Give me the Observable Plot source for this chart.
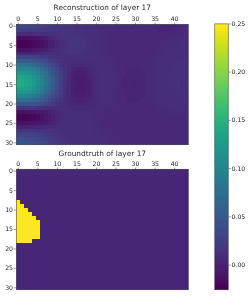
<!DOCTYPE html>
<html>
<head>
<meta charset="utf-8">
<script src="https://cdn.jsdelivr.net/npm/d3@7"></script>
<script src="https://cdn.jsdelivr.net/npm/@observablehq/plot@0.6"></script>
<style>
html,body{margin:0;padding:0;background:#fff;}
#root{position:relative;width:250px;height:296px;overflow:hidden;}
#root svg{position:absolute;left:0;top:0;background:transparent;filter:blur(0.4px);}
</style>
</head>
<body>
<div id="root"></div>
<script>
const titleTop = "Reconstruction of layer 17";
const titleBottom = "Groundtruth of layer 17";
const xTicks = [0,5,10,15,20,25,30,35,40];
const yTicks = [0,5,10,15,20,25,30];
const barTicks = [0,0.05,0.10,0.15,0.20,0.25];
const colorMin = -0.0256, colorMax = 0.25;
const nCols = 44, nRows = 31;

// Reconstruction values in thousandths, one row per image row
const reconstruction = [
[33,33,32,31,29,27,25,23,21,19,17,16,15,14,13,13,12,11,10,10,9,9,8,8,8,7,7,7,7,6,6,6,6,6,6,5,5,4,4,4,4,5,6,7],
[25,25,24,23,22,21,20,19,18,17,16,15,15,14,14,13,12,11,10,9,9,8,8,7,7,6,6,6,6,6,6,6,6,6,5,5,4,4,4,4,5,6,7,7],
[8,8,8,7,8,9,10,11,12,13,14,14,15,15,15,14,13,12,11,10,9,8,7,7,6,6,6,6,6,6,6,6,6,6,5,5,5,5,5,6,6,7,7,8],
[-16,-16,-15,-14,-12,-10,-7,-4,0,5,9,12,14,16,16,16,15,13,12,10,9,8,7,6,6,6,6,6,6,6,6,6,6,6,6,6,6,6,6,7,7,8,8,8],
[-23,-23,-22,-21,-19,-17,-14,-10,-5,0,5,9,13,15,16,16,15,14,12,11,9,8,7,6,6,6,6,6,6,6,6,6,6,6,6,6,6,6,7,7,8,8,9,9],
[-23,-23,-23,-21,-19,-17,-14,-10,-5,0,5,9,13,15,16,16,15,14,12,11,9,8,7,6,6,6,6,6,6,6,6,6,6,6,6,6,6,7,7,8,8,9,9,9],
[-13,-13,-12,-11,-9,-7,-5,-2,2,6,9,12,14,15,16,16,15,13,12,10,9,8,7,6,6,6,6,6,6,6,6,6,6,6,6,6,7,7,8,8,9,9,10,10],
[3,3,3,3,4,5,6,7,9,10,11,12,13,14,14,14,13,12,11,10,9,8,7,7,6,6,6,6,6,6,6,6,6,6,6,7,7,8,8,9,10,10,11,11],
[31,31,30,29,27,25,22,20,17,15,13,12,11,11,11,11,11,10,10,9,9,8,8,7,7,7,6,6,6,6,6,6,6,6,6,7,8,8,9,10,10,11,11,11],
[55,55,54,52,49,44,39,34,28,23,18,14,11,9,8,8,8,8,8,8,8,8,8,8,7,7,6,6,6,5,5,5,5,6,6,7,8,9,10,11,11,12,12,12],
[80,80,78,75,70,63,56,48,40,32,24,17,12,8,6,5,5,5,6,7,8,8,8,8,8,7,6,6,5,5,5,5,5,5,6,7,8,9,10,11,12,12,12,12],
[103,103,101,97,90,81,72,61,50,40,30,21,13,8,4,2,1,2,4,6,8,8,9,9,8,7,6,5,4,4,4,4,5,5,6,7,8,9,10,11,12,13,13,13],
[121,121,118,113,105,95,83,71,58,46,34,23,14,7,2,-1,-2,-1,2,5,7,9,9,9,8,7,6,5,4,3,3,4,4,5,6,7,8,10,11,12,13,13,13,13],
[134,134,131,125,116,105,92,78,64,50,37,25,14,6,0,-3,-4,-3,0,4,7,9,10,10,9,7,6,4,3,3,3,3,4,5,6,7,9,10,11,12,13,13,13,13],
[142,142,138,132,122,110,96,82,67,52,38,25,14,5,-1,-5,-6,-4,-1,3,7,9,10,10,9,8,6,4,3,2,2,3,4,5,6,7,9,10,11,12,13,14,13,13],
[143,143,139,133,123,111,97,82,67,52,38,25,14,5,-1,-5,-6,-5,-1,3,7,9,10,10,9,8,6,4,3,2,2,3,4,5,6,7,9,10,11,12,13,14,13,13],
[135,135,131,125,116,105,92,78,63,50,36,24,13,5,-1,-5,-6,-4,-1,3,7,9,10,10,9,7,6,4,3,2,2,3,4,5,6,7,9,10,11,12,13,13,13,13],
[121,121,118,112,104,94,82,70,57,44,32,21,12,5,0,-3,-4,-3,0,4,7,9,9,9,8,7,6,4,3,3,3,3,4,5,6,7,8,10,11,12,13,13,13,12],
[100,100,97,93,86,78,68,58,47,37,27,18,11,5,1,-1,-2,-1,1,4,7,8,9,9,8,7,6,5,4,3,3,4,4,5,6,7,8,9,10,11,12,12,12,12],
[75,75,73,70,65,59,52,44,36,28,21,15,9,5,3,1,1,1,3,5,6,8,8,8,8,7,6,5,4,4,4,4,5,5,6,7,8,9,10,10,11,11,11,11],
[48,48,47,45,42,38,34,29,24,20,15,12,9,6,5,4,4,4,5,6,6,7,8,8,7,7,6,5,5,5,5,5,5,6,6,7,8,8,9,9,10,10,10,10],
[15,15,15,14,14,13,12,11,10,9,9,8,8,7,7,7,7,7,7,7,7,7,7,7,7,6,6,6,6,6,6,6,6,6,6,7,7,8,8,8,9,9,9,9],
[-13,-13,-12,-11,-10,-8,-6,-3,0,3,6,8,8,9,9,9,9,9,8,8,7,7,7,6,6,6,6,6,6,6,6,6,6,6,6,6,7,7,7,7,8,8,8,8],
[-22,-22,-22,-21,-19,-16,-13,-9,-4,0,4,7,9,10,10,10,10,9,9,8,7,7,6,6,6,5,5,5,6,6,6,6,6,6,6,6,6,6,6,7,7,7,7,7],
[-22,-22,-22,-21,-19,-16,-13,-9,-4,0,4,7,9,10,11,11,10,10,9,8,7,7,6,6,5,5,5,5,5,6,6,6,6,6,6,6,6,6,6,6,6,6,6,6],
[-14,-14,-13,-12,-11,-9,-7,-4,0,3,6,8,10,10,11,11,10,10,9,8,8,7,6,6,5,5,5,5,5,5,6,6,6,6,6,6,6,6,6,6,6,6,6,6],
[0,0,0,1,2,3,4,6,7,8,9,10,10,11,11,10,10,10,9,8,8,7,6,6,6,5,5,5,5,5,5,6,6,6,6,6,6,6,6,6,6,6,6,6],
[18,18,18,18,18,17,16,15,14,13,12,12,11,11,11,10,10,10,9,9,8,7,7,6,6,6,6,6,6,6,6,6,6,6,6,6,6,6,6,6,6,6,6,6],
[29,29,29,28,27,25,23,21,19,17,15,13,12,11,11,11,10,10,9,9,8,8,7,7,6,6,6,6,6,6,6,6,6,6,6,6,6,6,6,6,6,6,6,6],
[39,39,38,37,35,32,29,26,23,20,17,15,13,12,11,11,10,10,9,9,8,8,8,7,7,7,6,6,6,6,6,6,6,6,6,6,6,6,6,6,6,6,6,6],
[45,45,44,42,40,36,32,29,25,21,18,16,14,12,11,11,10,10,9,9,9,8,8,8,7,7,7,6,6,6,6,6,6,6,6,6,6,6,6,6,6,6,6,6]
];

// Groundtruth: number of yellow cells from the left edge in each row
const truthRows   = [8,9,10,11,12,13,14,15,16,17,18];
const truthWidths = [1,2,3,4,5,6,6,6,6,6,4];
const truthValue = 0.25;
const truthBackground = 0.004;

const reconstructionFlat = reconstruction.flat().map(v => v / 1000);
const truthFlat = [];
for (let r = 0; r < nRows; r++) {
  const i = truthRows.indexOf(r);
  const w = i < 0 ? 0 : truthWidths[i];
  for (let c = 0; c < nCols; c++) truthFlat.push(c < w ? truthValue : truthBackground);
}
const barSteps = d3.range(256).map(i => colorMax - (colorMax - colorMin) * (i + 0.5) / 256);

const font = "'DejaVu Sans', sans-serif";
const ink = "#2a2a2a";
const color = {type: "linear", scheme: "viridis", domain: [colorMin, colorMax], clamp: true};

function panel(values, title, marginTop, marginBottom, titleDy) {
  return Plot.plot({
    width: 250, height: 296,
    marginLeft: 15.8, marginRight: 62.2, marginTop, marginBottom,
    style: {fontFamily: font, fontSize: "6.2px", background: "transparent", color: ink},
    x: {domain: [-0.5, 43.5], axis: null},
    y: {domain: [30.5, -0.5], axis: null},
    color,
    marks: [
      Plot.raster(values, {width: nCols, height: nRows, x1: -0.5, x2: 43.5, y1: -0.5, y2: 30.5, fill: d => d, imageRendering: "pixelated"}),
      Plot.frame({stroke: ink, strokeWidth: 0.5}),
      Plot.axisX({anchor: "top", ticks: xTicks, tickSize: 2.1, tickPadding: 1, strokeWidth: 0.5, label: null, tickFormat: d => String(d), fontSize: 6.2}),
      Plot.axisY({anchor: "left", ticks: yTicks, tickSize: 2.1, tickPadding: 1.2, strokeWidth: 0.5, label: null, tickFormat: d => String(d), fontSize: 6.2}),
      Plot.text([title], {frameAnchor: "top", dy: titleDy, lineAnchor: "middle", fontSize: 7.4, fill: ink, text: d => d})
    ]
  });
}

const bar = Plot.plot({
  width: 250, height: 296,
  marginLeft: 214.3, marginRight: 22.3, marginTop: 23.4, marginBottom: 6.7,
  style: {fontFamily: font, fontSize: "6.2px", background: "transparent", color: ink},
  x: {domain: [0, 1], axis: null},
  y: {domain: [colorMin, colorMax], axis: null},
  color,
  marks: [
    Plot.raster(barSteps, {width: 1, height: 256, x1: 0, x2: 1, y1: colorMax, y2: colorMin, fill: d => d}),
    Plot.frame({stroke: ink, strokeWidth: 0.5}),
    Plot.axisY({anchor: "right", ticks: barTicks, tickSize: 2.1, tickPadding: 1.2, strokeWidth: 0.5, label: null, tickFormat: d3.format(".2f"), fontSize: 6.2})
  ]
});

const root = document.getElementById("root");
root.append(panel(reconstructionFlat, titleTop, 23.8, 151.7, -16.5));
root.append(panel(truthFlat, titleBottom, 168.7, 6.7, -16));
root.append(bar);
</script>
</body>
</html>
